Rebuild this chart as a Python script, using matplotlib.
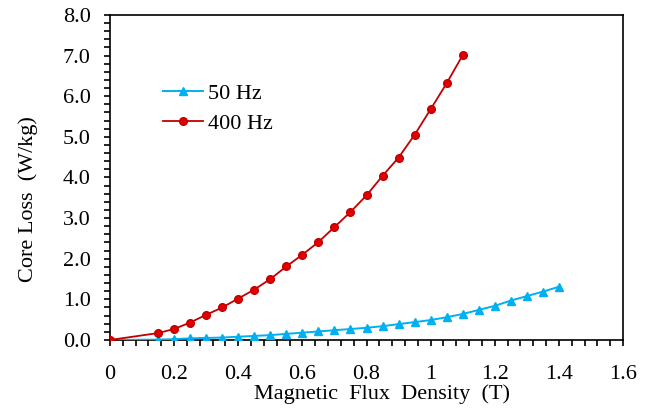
import matplotlib.pyplot as plt
from matplotlib.ticker import MultipleLocator

plt.rcParams['font.family'] = ['Liberation Serif', 'DejaVu Serif']

# flux density (T) and core loss (W/kg)
b_50 = [0, 0.15, 0.2, 0.25, 0.3, 0.35, 0.4, 0.45, 0.5, 0.55, 0.6, 0.65, 0.7,
        0.75, 0.8, 0.85, 0.9, 0.95, 1.0, 1.05, 1.1, 1.15, 1.2, 1.25, 1.3, 1.35, 1.4]
loss_50 = [0, 0.01, 0.02, 0.04, 0.05, 0.06, 0.08, 0.10, 0.12, 0.15, 0.18, 0.21, 0.24,
           0.27, 0.30, 0.34, 0.39, 0.44, 0.49, 0.56, 0.64, 0.74, 0.84, 0.97, 1.08, 1.19, 1.31]

b_400 = [0, 0.15, 0.2, 0.25, 0.3, 0.35, 0.4, 0.45, 0.5, 0.55, 0.6, 0.65, 0.7,
         0.75, 0.8, 0.85, 0.9, 0.95, 1.0, 1.05, 1.1]
loss_400 = [0, 0.17, 0.27, 0.43, 0.62, 0.80, 1.02, 1.24, 1.50, 1.81, 2.10, 2.41, 2.78,
            3.15, 3.56, 4.04, 4.49, 5.05, 5.68, 6.32, 7.01]

fig = plt.figure(figsize=(6.59, 4.12), dpi=100)
ax = fig.add_axes([0.1669, 0.1748, 0.9454 - 0.1669, 0.9636 - 0.1748])

ax.plot(b_50, loss_50, color='#00B0F0', lw=1.4, marker='^', ms=6,
        mfc='#00B0F0', mec='#00B0F0', label='50 Hz', zorder=3)
ax.plot(b_400, loss_400, color='#C00000', lw=1.3, marker='o', ms=5.5,
        mfc='#E00000', mec='#C00000', label='400 Hz', zorder=4)

ax.set_xlim(0, 1.6)
ax.set_ylim(0, 8)
ax.xaxis.set_minor_locator(MultipleLocator(0.04))
ax.yaxis.set_minor_locator(MultipleLocator(0.2))
ax.set_xticks([0, 0.2, 0.4, 0.6, 0.8, 1.0, 1.2, 1.4, 1.6])
ax.set_xticklabels(['0', '0.2', '0.4', '0.6', '0.8', '1', '1.2', '1.4', '1.6'])
ax.set_yticks(range(9))
ax.set_yticklabels([f'{v:.1f}' for v in range(9)])

ax.tick_params(which='both', direction='out', length=4, width=1.2,
               labelsize=16, top=False, right=False)
ax.tick_params(axis='x', pad=14)
ax.tick_params(axis='y', pad=10)
for s in ax.spines.values():
    s.set_linewidth(1.2)

ax.set_xlabel('Magnetic  Flux  Density  (T)', fontsize=16, labelpad=2)
ax.xaxis.set_label_coords(0.53, -0.135)
ax.set_ylabel('Core Loss  (W/kg)', fontsize=16)
ax.yaxis.set_label_coords(-0.14, 0.435)

ax.legend(loc='upper left', bbox_to_anchor=(0.103, 0.79), frameon=False,
          fontsize=16, handlelength=1.8, handletextpad=0.25, labelspacing=0.44,
          borderaxespad=0, borderpad=0)

fig.savefig('out.png', dpi=100)
